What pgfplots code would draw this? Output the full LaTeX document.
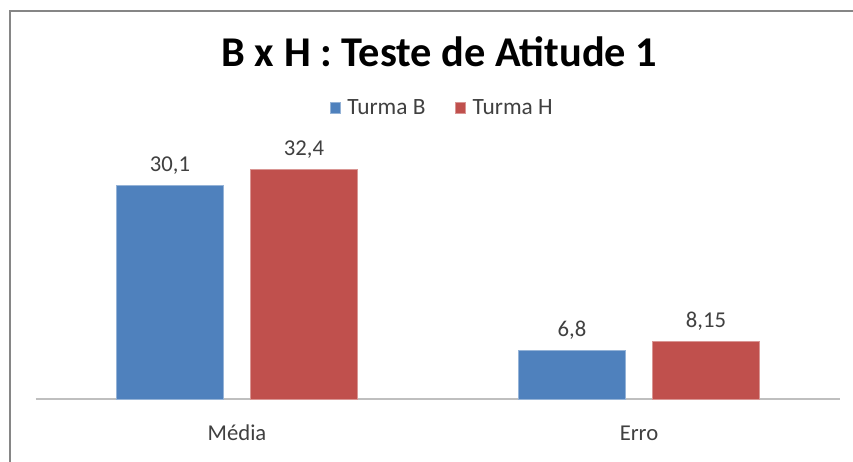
\documentclass[border=0pt]{standalone}
\usepackage{pgfplots}
\pgfplotsset{compat=1.18}
\usepackage{fontspec}
\setmainfont{Carlito}
\definecolor{barB}{HTML}{4F81BD}
\definecolor{barH}{HTML}{C0504D}
\definecolor{txt}{HTML}{404040}
\definecolor{axgrey}{HTML}{BFBFBF}
\definecolor{frame}{HTML}{868686}
\begin{document}
\begin{tikzpicture}[x=0.75pt,y=0.75pt]
\useasboundingbox (0,0) rectangle (853,461);
\fill[white] (0,0) rectangle (853,461);
\draw[frame, line width=1.5pt] (10,-20) -- (10,450) -- (880,450);
\node[font=\fontsize{31.8}{36}\selectfont\bfseries, text=black] at (439.5,409) {B x H : Teste de Atitude 1};
\coordinate (O) at (36,62);
\begin{axis}[
  at={(O)}, anchor=south west,
  scale only axis,
  width=603pt, height=185.9pt,
  ybar=20.25pt, bar width=80.25pt,
  xmin=-0.5, xmax=1.5, ymin=0, ymax=35,
  xtick=data, xticklabels={Média,Erro},
  major tick length=0pt,
  axis x line*=bottom, axis y line=none,
  x axis line style={axgrey, line width=1.5pt},
  ytick=\empty,
  xticklabel style={font=\fontsize{17}{20}\selectfont, text=txt, anchor=base, inner sep=0pt, yshift=-30.75pt},
  nodes near coords={\pgfmathprintnumber[use comma, assume math mode=true]{\pgfplotspointmeta}},
  every node near coord/.append style={font=\fontsize{17}{20}\selectfont, text=txt, anchor=base, inner sep=0pt, yshift=10.5pt},
  legend columns=2,
  legend style={draw=none, fill=none, at={(0.508,1.174)}, anchor=center,
    font=\fontsize{17.5}{20}\selectfont, text=txt,
    /tikz/every even column/.append style={column sep=17pt},
    nodes={inner xsep=5pt}},
  legend image code/.code={\fill[#1] (0pt,-3.9pt) rectangle (7.8pt,3.9pt);},
]
\addplot[fill=barB, draw=barB!60!white, line width=0.6pt] coordinates {(0,30.1) (1,6.8)};
\addplot[fill=barH, draw=barH!60!white, line width=0.6pt] coordinates {(0,32.4) (1,8.15)};
\legend{Turma B, Turma H}
\end{axis}
\end{tikzpicture}
\end{document}
